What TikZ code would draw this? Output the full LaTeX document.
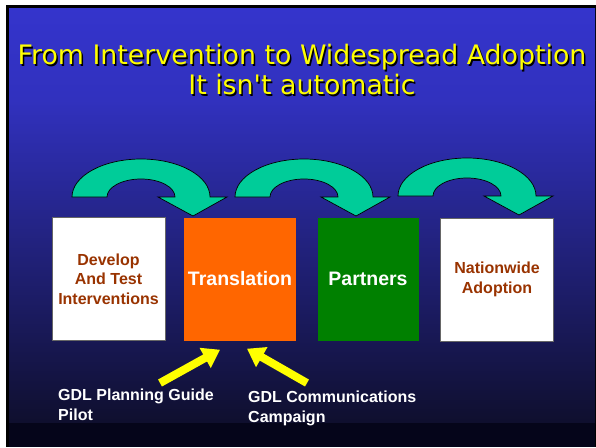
\documentclass[tikz,border=0pt]{standalone}
\usepackage{fontspec}
\setmainfont{Liberation Sans}
\newfontfamily\titlefont{DejaVu Sans}
\usepackage{tikz}
\usetikzlibrary{calc,shapes,arrows.meta}
\definecolor{slideblue}{RGB}{52,52,204}
\definecolor{slidemid}{RGB}{49,49,190}
\definecolor{slidedark}{RGB}{15,15,46}
\definecolor{slidefoot}{RGB}{5,5,26}
\definecolor{stagebrown}{RGB}{153,51,0}
\definecolor{stageorange}{RGB}{255,102,0}
\definecolor{stagegreen}{RGB}{0,128,0}
\definecolor{flowteal}{RGB}{0,204,153}
\definecolor{titleyellow}{RGB}{255,255,0}
\tikzstyle{whitebox}=[rectangle,draw=black!60,fill=white,line width=0.8pt,
                      minimum width=113pt,minimum height=123pt,inner sep=0pt,
                      font=\fontsize{16}{19.5}\selectfont\bfseries,text=stagebrown]
\tikzstyle{colourbox}=[rectangle,minimum height=123pt,inner sep=0pt,
                       font=\fontsize{19.5}{22}\selectfont\bfseries,text=white]
\tikzstyle{flowarrow}=[draw=black,line width=0.7pt,fill=flowteal]
\tikzstyle{pointer}=[draw=titleyellow,line width=8pt,
                     -{Triangle[width=22pt,length=17pt]}]
\tikzstyle{pointerlabel}=[anchor=north west,inner sep=0pt,align=left,text=white,
                          font=\fontsize{16}{20}\selectfont\bfseries]
\tikzstyle{titletext}=[align=center,inner sep=0pt,
                       font=\titlefont\fontsize{26.8}{30}\selectfont]
\newcommand\nodelabel[2][6.6em]{\parbox{#1}{\centering #2}}
\newcommand\boxrow{279}
\newcommand\curvedflow[1]{
    \draw [flowarrow,shift={(#1)}] (-121,-19)
        arc[start angle=180,end angle=0,x radius=69pt,y radius=38pt]
        -- (34,-19) -- (0,0) -- (-35,-19) -- (-18,-19)
        arc[start angle=0,end angle=180,x radius=34pt,y radius=18pt]
        -- cycle;
}

\begin{document}
\begin{tikzpicture}[x=1pt,y=-1pt]
    \useasboundingbox (0,0) rectangle (596,447);
    % slide background
    \fill [white] (0,0) rectangle (596,447);
    \fill [black] (6,5) rectangle (596,447);
    \shade [top color=slideblue,bottom color=slidemid] (9,8) rectangle (595,100);
    \shade [top color=slidemid,bottom color=slidedark] (9,100) rectangle (595,423);
    \fill [slidefoot] (9,423) rectangle (595,447);

    \node [titletext,text=black] (titleshadow) at (303.5,71.5) {
        From Intervention to Widespread Adoption\\It isn't automatic
    };
    \node [titletext,text=titleyellow] (title) at (302,70) {
        From Intervention to Widespread Adoption\\It isn't automatic
    };

    \node [whitebox] (develop) at (108.5,\boxrow) {
        \nodelabel{Develop\\And Test\\Interventions}
    };
    \node [colourbox,fill=stageorange,minimum width=112pt] (translation) at (240,\boxrow) {Translation};
    \node [colourbox,fill=stagegreen,minimum width=101pt] (partners) at (368,\boxrow) {Partners};
    \node [whitebox] (nationwide) at (497,279.5) {
        \nodelabel{Nationwide\\Adoption}
    };

    % curved arrows between the stages
    \coordinate (tip1) at (193,216);
    \coordinate (tip2) at (356,216);
    \coordinate (tip3) at (519,215);
    \curvedflow{tip1}
    \curvedflow{tip2}
    \curvedflow{tip3}

    \node [pointerlabel] (gdlplan) at (58,389) {GDL Planning Guide\\Pilot};
    \node [pointerlabel] (gdlcomm) at (248,391) {GDL Communications\\Campaign};
    \coordinate (plantail) at (160,383);
    \coordinate (plantip) at ($(translation.south)+(-20,9)$);
    \coordinate (commtail) at (307,383);
    \coordinate (commtip) at ($(translation.south)+(7,8)$);
    \draw [pointer] (plantail) -- (plantip);
    \draw [pointer] (commtail) -- (commtip);
\end{tikzpicture}
\end{document}
